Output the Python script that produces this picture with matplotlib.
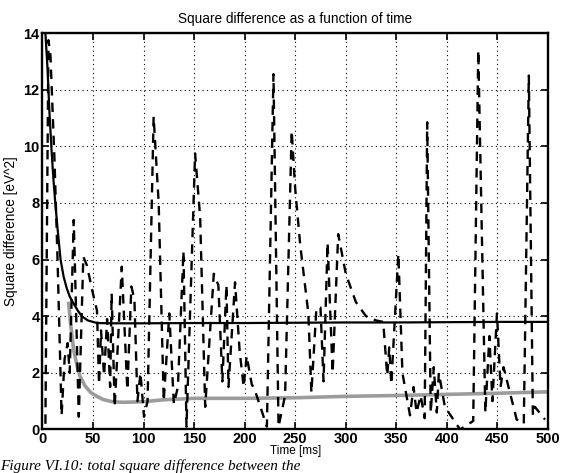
import matplotlib
matplotlib.use("Agg")
import matplotlib.pyplot as plt

# ---- data ----
fit_t = [3, 5, 7, 9, 11, 13, 15, 18, 21, 24, 27, 30, 35, 39, 45, 54, 70, 100, 150, 200, 250, 300, 350, 400, 450, 500]
fit_v = [14.0, 12.8, 11.2, 9.9, 8.8, 7.9, 7.1, 6.0, 5.4, 5.0, 4.7, 4.5, 4.2, 4.0, 3.85, 3.76, 3.75, 3.75, 3.76, 3.76, 3.77, 3.78, 3.78, 3.79, 3.8, 3.8]

gray_t = [26, 28, 31, 34, 37, 42, 48, 54, 60, 69, 80, 100, 120, 150, 200, 250, 300, 350, 400, 450, 500]
gray_v = [4.45, 3.7, 2.8, 2.3, 1.9, 1.55, 1.3, 1.17, 1.06, 0.98, 0.96, 0.98, 1.05, 1.1, 1.1, 1.12, 1.17, 1.2, 1.24, 1.28, 1.33]

dash_t = [3, 6, 8, 12, 15, 19, 22, 25, 27, 31, 36, 40.5, 44, 50, 54, 56, 58, 61, 64, 67, 68.5, 71.5,
          78.5, 84, 88, 91, 94, 97, 100.5, 104, 110, 115, 120, 125.5, 130, 134, 139.5, 142.5,
          151, 156, 161, 169.5, 174, 178, 182, 184, 190.5, 195, 199, 202, 207, 210, 222,
          228.5, 233.5, 240, 246.5, 250, 255, 263, 266, 271, 275, 278, 282, 287, 292.5,
          300, 310, 320, 330, 337, 341, 343, 345, 352, 356, 363.5, 367, 370, 374, 378,
          380.5, 384, 387, 390, 392, 398, 413, 426, 431, 438, 442, 445, 449.5, 453, 456,
          469, 476, 481, 485, 487, 497]
dash_v = [0.2, 13.75, 13.2, 9.5, 6.0, 0.5, 2.5, 3.05, 2.0, 7.4, 0.45, 6.1, 5.8, 4.8, 4.2, 1.6, 3.5, 1.9, 3.9, 1.5, 4.8, 0.8,
          5.75, 1.4, 5.05, 4.6, 1.0, 2.0, 0.45, 1.0, 11.05, 8.0, 1.0, 4.1, 0.9, 1.5, 6.3, 0.1,
          9.75, 7.5, 0.8, 5.5, 5.1, 1.7, 5.1, 1.5, 5.2, 2.8, 1.5, 2.6, 1.6, 1.4, 0.1,
          12.55, 0.1, 1.2, 10.55, 8.5, 6.5, 4.1, 1.3, 4.3, 4.3, 1.7, 6.6, 2.0, 6.9,
          5.5, 4.5, 4.0, 3.85, 3.8, 1.9, 2.9, 1.6, 6.2, 2.0, 0.5, 1.5, 0.6, 1.2, 0.4,
          10.85, 0.6, 2.2, 0.6, 2.0, 0.8, 0.0, 0.3, 13.4, 0.6, 3.3, 1.0, 4.1, 1.5, 2.2,
          0.35, 0.2, 12.5, 0.5, 0.8, 0.35]

x_ticks = [0, 50, 100, 150, 200, 250, 300, 350, 400, 450, 500]
y_ticks = [0, 2, 4, 6, 8, 10, 12, 14]

title = "Square difference as a function of time"
xlabel = "Time [ms]"
ylabel = "Square difference [eV^2]"
caption = "Figure VI.10: total square difference between the"

plt.rcParams['font.family'] = ['Liberation Sans', 'DejaVu Sans']

fig = plt.figure(figsize=(5.65, 4.73), dpi=100)
ax = fig.add_axes([0.075, 0.092, 0.895, 0.838])

ax.plot(gray_t, gray_v, color='#9c9c9c', lw=2.6, zorder=2)
ax.plot(fit_t, fit_v, color='black', lw=1.6, zorder=3)
ax.plot(dash_t, dash_v, color='black', lw=1.7, dashes=(4, 3), zorder=4)

ax.set_xlim(0, 500)
ax.set_ylim(0, 14)
ax.set_xticks(x_ticks)
ax.set_yticks(y_ticks)
ax.set_xticklabels([str(v) for v in x_ticks], fontsize=10.5, fontweight='bold')
ax.set_yticklabels([str(v) for v in y_ticks], fontsize=10.5, fontweight='bold')
ax.tick_params(direction='in', top=True, right=True, length=5, width=1.2, pad=2)
ax.grid(True, color='black', linestyle=(0, (1, 3)), linewidth=0.8)
for s in ax.spines.values():
    s.set_linewidth(1.7)

ax.set_title(title, fontsize=9.8, pad=7)
ax.set_xlabel(xlabel, fontsize=8.5, labelpad=-1)
ax.set_ylabel(ylabel, fontsize=9.8, labelpad=4)

fig.text(0.0, 0.0, caption, fontsize=11, style='italic',
         family=['Liberation Serif', 'DejaVu Serif'], ha='left', va='bottom')

fig.savefig("out.png", dpi=100)
